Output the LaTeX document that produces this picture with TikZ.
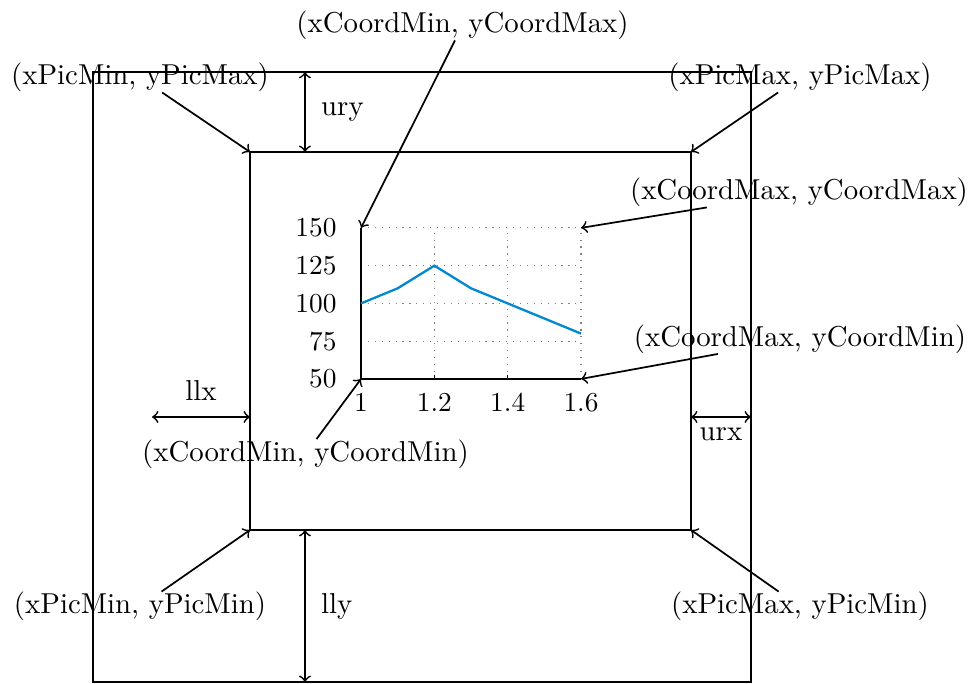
\documentclass[tikz,border=0pt]{standalone}
\usetikzlibrary{positioning}
\definecolor{plotblue}{RGB}{0,137,209}
\tikzset{
	spot/.style={inner sep=0pt},
	pointer/.style={->, semithick},
	span/.style={<->, semithick},
	ticklabel/.style={font=\fontsize{9.5}{11}\selectfont},
}
\begin{document}
\begin{tikzpicture}
	\useasboundingbox (-1.135, -0.024) rectangle (10.813, 8.323);
	\draw[thick] (0, 0) coordinate (outLL) rectangle (8.030, 7.445) coordinate (outUR);
	\draw[semithick] (1.916, 1.855) coordinate (picLL) rectangle (7.298, 6.468) coordinate (picUR);
	\coordinate (picUL) at (picLL |- picUR);
	\coordinate (picLR) at (picUR |- picLL);

	\begin{scope}[shift={(-1.204, 2.777)}, x=4.475cm, y=0.01843cm]
		\foreach \gx in {1, 1.2, 1.4, 1.6}
			\draw[gray, dotted] (\gx, 50) -- (\gx, 150);
		\foreach \gy in {50, 75, 100, 125, 150}
			\draw[gray, dotted] (1, \gy) -- (1.6, \gy);
		\foreach \gx in {1.2, 1.4}
			\draw (\gx, 50) -- ++(0, 2.7);
		\draw[thick] (1, 150) coordinate (crdUL) -- (1, 50) coordinate (crdLL) -- (1.6, 50) coordinate (crdLR);
		\coordinate (crdUR) at (1.6, 150);
		\foreach \gx [count=\i] in {1, 1.2, 1.4, 1.6}
			\node[ticklabel, below=1.5pt] (xtick\i) at (\gx, 50) {\gx};
		\foreach \gy [count=\i] in {50, 75, 100, 125, 150}
			\node[ticklabel, left=5pt] (ytick\i) at (1, \gy) {\gy};
		\draw[plotblue, thick] plot coordinates {(1, 100) (1.1, 110) (1.2, 125) (1.3, 110) (1.4, 100) (1.5, 90) (1.6, 80)};
	\end{scope}

	\coordinate (uryTop) at (2.587, 0 |- outUR);
	\coordinate (uryBot) at (uryTop |- picUR);
	\draw[span] (uryTop) -- node[right=2pt] (ury) {ury} (uryBot);
	\coordinate (llyTop) at (uryTop |- picLL);
	\coordinate (llyBot) at (uryTop |- outLL);
	\draw[span] (llyTop) -- node[right=2pt] (lly) {lly} (llyBot);
	\coordinate (llxLeft) at (0.720, 3.234);
	\coordinate (llxRight) at (picLL |- llxLeft);
	\draw[span] (llxLeft) -- node[above=2pt] (llx) {llx} (llxRight);
	\coordinate (urxLeft) at (picUR |- llxLeft);
	\coordinate (urxRight) at (outUR |- llxLeft);
	\draw[span] (urxLeft) -- node[below] (urx) {urx} (urxRight);

	\node[spot] (cMinMax) at (4.509, 8.012) {(xCoordMin, yCoordMax)};
	\node[spot] (pMinMax) at (0.574, 7.377) {(xPicMin, yPicMax)};
	\node[spot] (pMaxMax) at (8.628, 7.377) {(xPicMax, yPicMax)};
	\node[spot] (cMaxMax) at (8.616, 5.974) {(xCoordMax, yCoordMax)};
	\node[spot] (cMaxMin) at (8.628, 4.186) {(xCoordMax, yCoordMin)};
	\node[spot] (cMinMin) at (2.593, 2.782) {(xCoordMin, yCoordMin)};
	\node[spot] (pMinMin) at (0.574, 0.920) {(xPicMin, yPicMin)};
	\node[spot] (pMaxMin) at (8.628, 0.920) {(xPicMax, yPicMin)};

	\draw[pointer] (cMinMax) -- (crdUL);
	\draw[pointer] (pMinMax) -- (picUL);
	\draw[pointer] (pMaxMax) -- (picUR);
	\draw[pointer] (cMaxMax) -- (crdUR);
	\draw[pointer] (cMaxMin) -- (crdLR);
	\draw[pointer] (cMinMin) -- (crdLL);
	\draw[pointer] (pMinMin) -- (picLL);
	\draw[pointer] (pMaxMin) -- (picLR);
\end{tikzpicture}
\end{document}
